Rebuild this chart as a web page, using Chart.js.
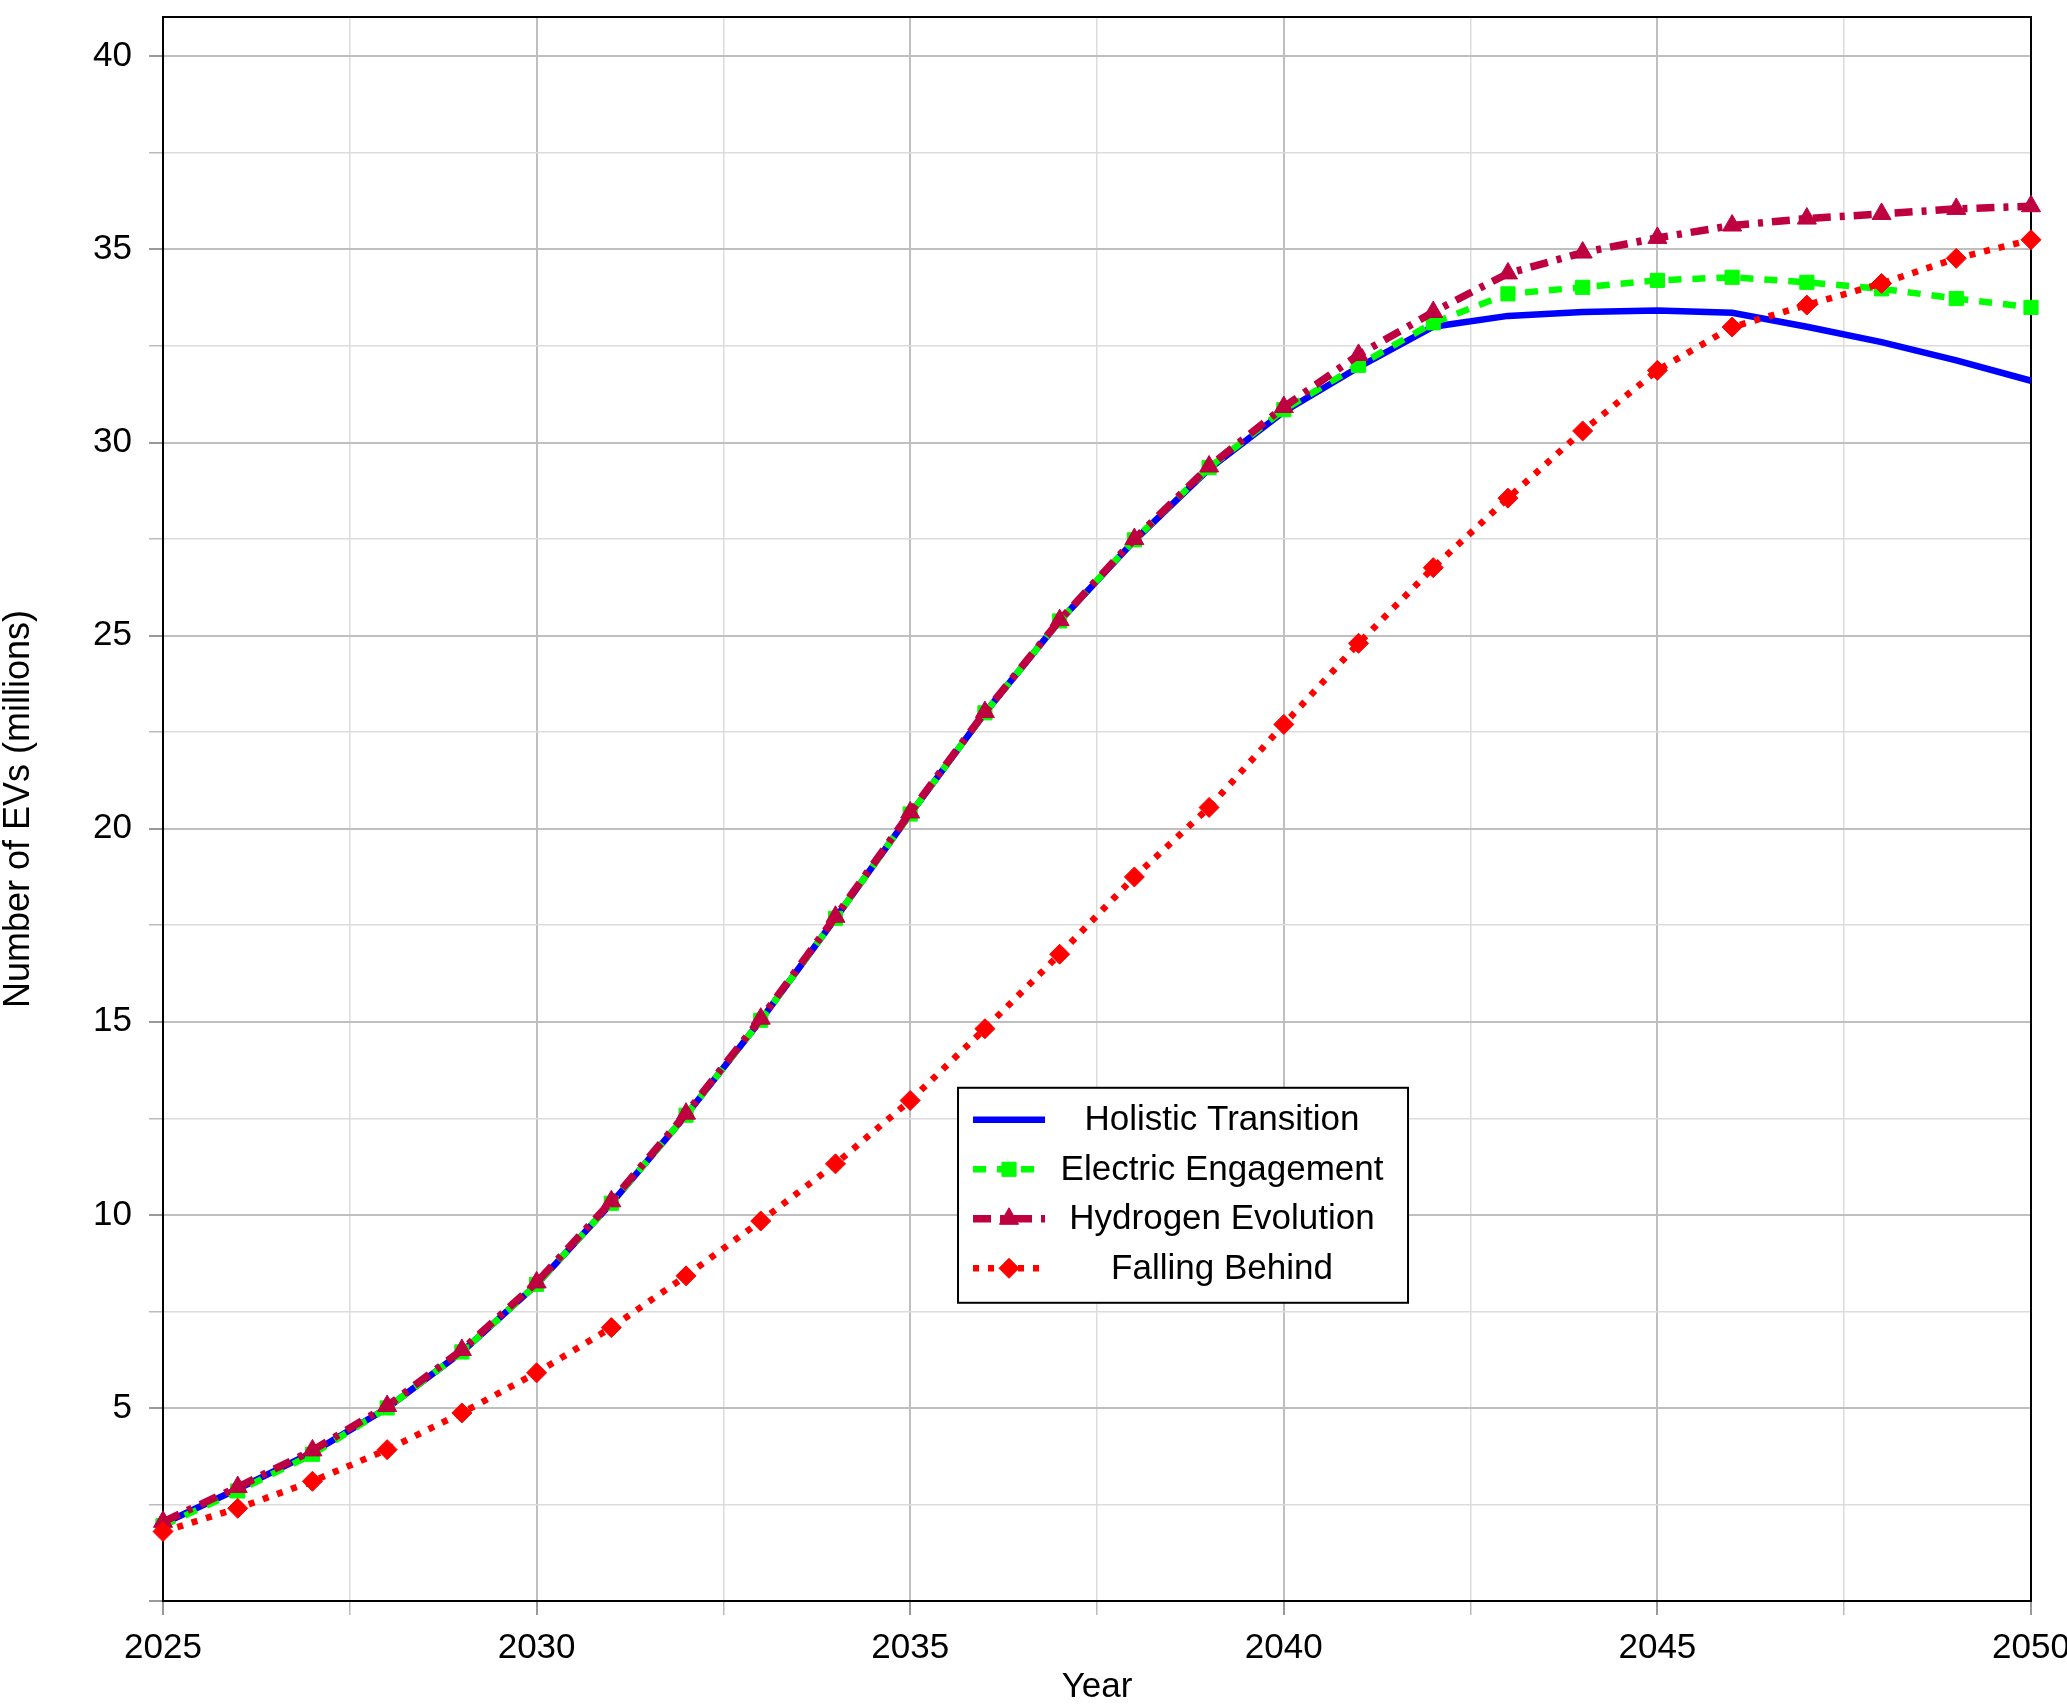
<!DOCTYPE html>
<html>
<head>
<meta charset="utf-8">
<title>Number of EVs</title>
<script src="https://cdn.jsdelivr.net/npm/chart.js@4.4.1/dist/chart.umd.min.js"></script>
<style>
  html, body { margin: 0; padding: 0; background: #fff; }
  #grafico { display: block; }
</style>
</head>
<body>
<canvas id="grafico" width="2067" height="1705"></canvas>
<script>
// dados (milhoes de EVs)
const anos = [2025, 2026, 2027, 2028, 2029, 2030, 2031, 2032, 2033, 2034, 2035, 2036, 2037,
              2038, 2039, 2040, 2041, 2042, 2043, 2044, 2045, 2046, 2047, 2048, 2049, 2050]

const holistic = [2.0, 2.9, 3.85, 5.0, 6.45, 8.2, 10.3, 12.58, 15.04, 17.68, 20.38, 23.0, 25.38,
                  27.46, 29.32, 30.8, 31.95, 33.0, 33.28, 33.38, 33.42, 33.36, 33.0, 32.6, 32.13, 31.6]

const electric = [1.95, 2.85, 3.8, 5.0, 6.45, 8.2, 10.3, 12.58, 15.04, 17.68, 20.38, 23.0, 25.38,
                  27.48, 29.35, 30.85, 32.0, 33.1, 33.85, 34.02, 34.2, 34.28, 34.15, 33.98, 33.73, 33.5]

const hydrogen = [2.05, 2.95, 3.9, 5.05, 6.5, 8.25, 10.35, 12.62, 15.08, 17.72, 20.42, 23.02, 25.4,
                  27.5, 29.38, 30.92, 32.27, 33.38, 34.38, 34.92, 35.3, 35.62, 35.8, 35.92, 36.05, 36.12]

const falling = [1.8, 2.4, 3.1, 3.92, 4.87, 5.91, 7.08, 8.42, 9.84, 11.32, 12.96, 14.82, 16.75,
                 18.75, 20.55, 22.7, 24.8, 26.76, 28.56, 30.3, 31.87, 32.99, 33.56, 34.12, 34.77, 35.25]

const nomes = ['Holistic Transition', 'Electric Engagement', 'Hydrogen Evolution', 'Falling Behind']
const rotulosX = [2025, 2030, 2035, 2040, 2045, 2050]
const rotulosY = [5, 10, 15, 20, 25, 30, 35, 40]

const fonte = "'Liberation Sans', Arial, sans-serif"

function pontos(serie) {
    return anos.map((a, i) => ({ x: a, y: serie[i] }))
}

function ehInteiro(v) {
    return Math.abs(v - Math.round(v)) < 1e-6
}

function majorX(v) {
    return ehInteiro(v) && Math.round(v) % 5 === 0
}

/* moldura preta em volta da area do grafico */
const moldura = {
    id: 'moldura',
    beforeDatasetsDraw(chart) {
        const ctx = chart.ctx
        const ca = chart.chartArea
        ctx.save()
        ctx.strokeStyle = '#000'
        ctx.lineWidth = 2
        ctx.strokeRect(ca.left, ca.top, ca.right - ca.left, ca.bottom - ca.top)
        ctx.restore()
    }
}

/* legenda dentro do grafico, texto centralizado */
const legendaCaixa = {
    id: 'legendaCaixa',
    afterDatasetsDraw(chart) {
        const ctx = chart.ctx
        const ca = chart.chartArea
        const w = 450, h = 215
        const x0 = ca.left + 0.4256 * (ca.right - ca.left)
        const y0 = ca.top + 0.676 * (ca.bottom - ca.top)
        ctx.save()
        ctx.fillStyle = '#fff'
        ctx.fillRect(x0, y0, w, h)
        ctx.strokeStyle = '#000'
        ctx.lineWidth = 2
        ctx.strokeRect(x0, y0, w, h)

        chart.data.datasets.forEach((ds, i) => {
            const cy = y0 + 32 + i * 49.5
            ctx.beginPath()
            ctx.setLineDash(ds.borderDash || [])
            ctx.lineCap = 'butt'
            ctx.lineWidth = ds.borderWidth
            ctx.strokeStyle = ds.borderColor
            ctx.moveTo(x0 + 15, cy)
            ctx.lineTo(x0 + 87, cy)
            ctx.stroke()
            ctx.setLineDash([])

            if (ds.pointRadius > 0 && Chart.helpers && Chart.helpers.drawPoint) {
                ctx.fillStyle = ds.pointBackgroundColor
                ctx.strokeStyle = ds.pointBorderColor
                ctx.lineWidth = 1
                Chart.helpers.drawPoint(ctx, {
                    pointStyle: ds.pointStyle,
                    radius: ds.pointRadius,
                    borderWidth: 1,
                    rotation: 0
                }, x0 + 51, cy)
            }

            ctx.fillStyle = '#000'
            ctx.font = '35px ' + fonte
            ctx.textAlign = 'center'
            ctx.textBaseline = 'middle'
            ctx.fillText(ds.label, x0 + 264, cy + 1)
        })
        ctx.restore()
    }
}

const data = {
    datasets: [
        {
            label: nomes[0],
            data: pontos(holistic),
            borderColor: '#0000ff',
            backgroundColor: '#0000ff',
            borderWidth: 6.5,
            pointRadius: 0,
            order: 4
        },
        {
            label: nomes[1],
            data: pontos(electric),
            borderColor: '#00ff00',
            backgroundColor: '#00ff00',
            borderWidth: 6.5,
            borderDash: [13, 11],
            pointStyle: 'rect',
            pointRadius: 10,
            pointBackgroundColor: '#00ff00',
            pointBorderColor: '#00ff00',
            pointBorderWidth: 1,
            order: 3
        },
        {
            label: nomes[2],
            data: pontos(hydrogen),
            borderColor: '#bf0040',
            backgroundColor: '#bf0040',
            borderWidth: 7.5,
            borderDash: [18, 9, 5, 9],
            pointStyle: 'triangle',
            pointRadius: 11,
            pointBackgroundColor: '#bf0040',
            pointBorderColor: '#bf0040',
            pointBorderWidth: 1,
            order: 2
        },
        {
            label: nomes[3],
            data: pontos(falling),
            borderColor: '#ff0000',
            backgroundColor: '#ff0000',
            borderWidth: 6.5,
            borderDash: [6, 9],
            pointStyle: 'rectRot',
            pointRadius: 10,
            pointBackgroundColor: '#ff0000',
            pointBorderColor: '#ff0000',
            pointBorderWidth: 1,
            order: 1
        }
    ]
}

const config = {
    type: 'line',
    data: data,
    options: {
        responsive: false,
        animation: false,
        devicePixelRatio: 1,
        clip: false,
        layout: { padding: { top: 17, right: 36, left: 0, bottom: 0 } },
        elements: {
            line: { tension: 0, borderCapStyle: 'butt', borderJoinStyle: 'miter', fill: false }
        },
        plugins: {
            legend: { display: false },
            tooltip: { enabled: false }
        },
        scales: {
            x: {
                type: 'linear',
                min: 2025,
                max: 2050,
                afterFit: (s) => {
                    s.height = 104
                    s.paddingLeft = 0
                    s.paddingRight = 0
                },
                border: { display: false },
                grid: {
                    color: (c) => majorX(c.tick.value) ? '#bfbfbf' : '#dcdcdc',
                    lineWidth: (c) => majorX(c.tick.value) ? 2 : 1.5,
                    tickColor: (c) => majorX(c.tick.value) ? '#999' : '#bbb',
                    tickLength: 14
                },
                ticks: {
                    stepSize: 2.5,
                    autoSkip: false,
                    maxRotation: 0,
                    padding: 12,
                    color: '#000',
                    font: { family: fonte, size: 35 },
                    callback: (v) => (ehInteiro(v) && rotulosX.includes(Math.round(v))) ? String(Math.round(v)) : ''
                },
                title: {
                    display: true,
                    text: 'Year',
                    color: '#000',
                    font: { family: fonte, size: 35, lineHeight: 1 },
                    padding: { top: 0, bottom: 0 }
                }
            },
            y: {
                type: 'linear',
                min: 0,
                max: 41.02,
                afterFit: (s) => {
                    s.width = 163
                    s.paddingTop = 0
                    s.paddingBottom = 0
                },
                border: { display: false },
                grid: {
                    color: (c) => (c.tick.value % 5 === 0) ? '#bfbfbf' : '#dcdcdc',
                    lineWidth: (c) => (c.tick.value % 5 === 0) ? 2 : 1.5,
                    tickColor: (c) => (c.tick.value % 5 === 0) ? '#999' : '#bbb',
                    tickLength: 14
                },
                ticks: {
                    stepSize: 2.5,
                    includeBounds: false,
                    autoSkip: false,
                    padding: 17,
                    color: '#000',
                    font: { family: fonte, size: 35 },
                    callback: (v) => rotulosY.includes(v) ? String(v) : ''
                },
                title: {
                    display: true,
                    text: 'Number of EVs (millions)',
                    color: '#000',
                    font: { family: fonte, size: 36, lineHeight: 1 },
                    padding: { top: 1, bottom: 0 }
                }
            }
        }
    },
    plugins: [moldura, legendaCaixa]
}

const graf = document.querySelector('#grafico').getContext('2d')
const myChart = new Chart(graf, config)
</script>
</body>
</html>
